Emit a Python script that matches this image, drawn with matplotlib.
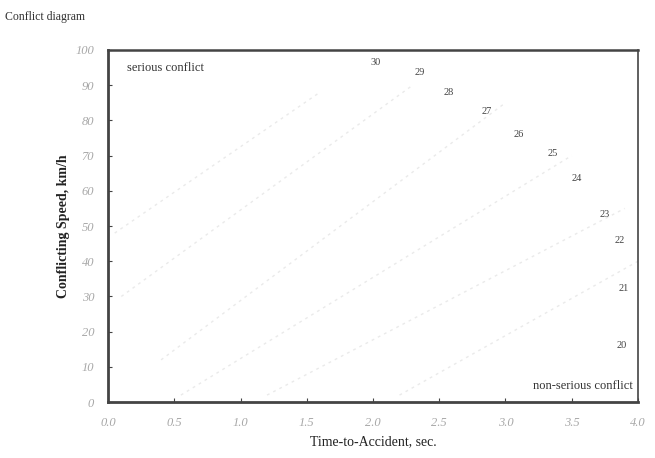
import matplotlib
matplotlib.use("Agg")
import matplotlib.pyplot as plt

# point labels and positions
point_labels = ["30", "29", "28", "27", "26", "25", "24", "23", "22", "21", "20"]
time_to_acc = [2.02, 2.35, 2.57, 2.86, 3.10, 3.36, 3.54, 3.75, 3.86, 3.89, 3.88]
speed = [96.3, 93.5, 87.8, 82.4, 76.1, 70.7, 63.4, 53.4, 46.0, 32.4, 16.2]

# faint background iso-lines (very washed out in the scan)
iso_x = [[0.05, 1.6], [0.1, 2.3], [0.4, 3.0], [0.55, 3.5], [1.2, 3.9], [2.2, 4.0]]
iso_y = [[48, 88], [30, 90], [12, 85], [2, 70], [2, 55], [2, 40]]

xticks = [0.0, 0.5, 1.0, 1.5, 2.0, 2.5, 3.0, 3.5, 4.0]
yticks = [0, 10, 20, 30, 40, 50, 60, 70, 80, 90, 100]

plt.rcParams['font.family'] = ['Liberation Serif', 'DejaVu Serif']

fig = plt.figure(figsize=(6.55, 4.58), dpi=100)
ax = fig.add_axes([0.165, 0.122, 0.809, 0.769])

for xs, ys in zip(iso_x, iso_y):
    ax.plot(xs, ys, color="#eaeaea", lw=1.0, ls=(0, (2, 3)), zorder=1)

for lab, x, y in zip(point_labels, time_to_acc, speed):
    ax.text(x, y, lab, fontsize=7.5, color="#444444", ha="center", va="center", zorder=3)

ax.set_xlim(0, 4)
ax.set_ylim(0, 100)
ax.set_xticks(xticks)
ax.set_yticks(yticks)
ax.set_xticklabels(["%.1f" % t for t in xticks], fontsize=9, color="#a8a8a8", style="italic")
ax.set_yticklabels([str(t) for t in yticks], fontsize=9, color="#a8a8a8", style="italic")
ax.tick_params(direction="in", length=3, color="#444444")
ax.tick_params(axis="x", pad=11)
ax.tick_params(axis="y", pad=10)

for s in ax.spines.values():
    s.set_color("#444444")
    s.set_linewidth(1.2)
ax.spines["left"].set_linewidth(2.0)
ax.spines["bottom"].set_linewidth(2.0)
ax.spines["top"].set_linewidth(1.8)

ax.text(0.035, 0.95, "serious conflict", transform=ax.transAxes, fontsize=9,
        color="#333333", ha="left", va="center")
ax.text(0.99, 0.045, "non-serious conflict", transform=ax.transAxes, fontsize=9,
        color="#333333", ha="right", va="center")

ax.set_xlabel("Time-to-Accident, sec.", fontsize=10, color="#222222", labelpad=4)
ax.set_ylabel("Conflicting Speed, km/h", fontsize=10, color="#222222",
              fontweight="bold", labelpad=4)

fig.text(0.008, 0.962, "Conflict diagram", fontsize=8.5, color="#333333",
         ha="left", va="center")

fig.savefig("out.png", dpi=100)
